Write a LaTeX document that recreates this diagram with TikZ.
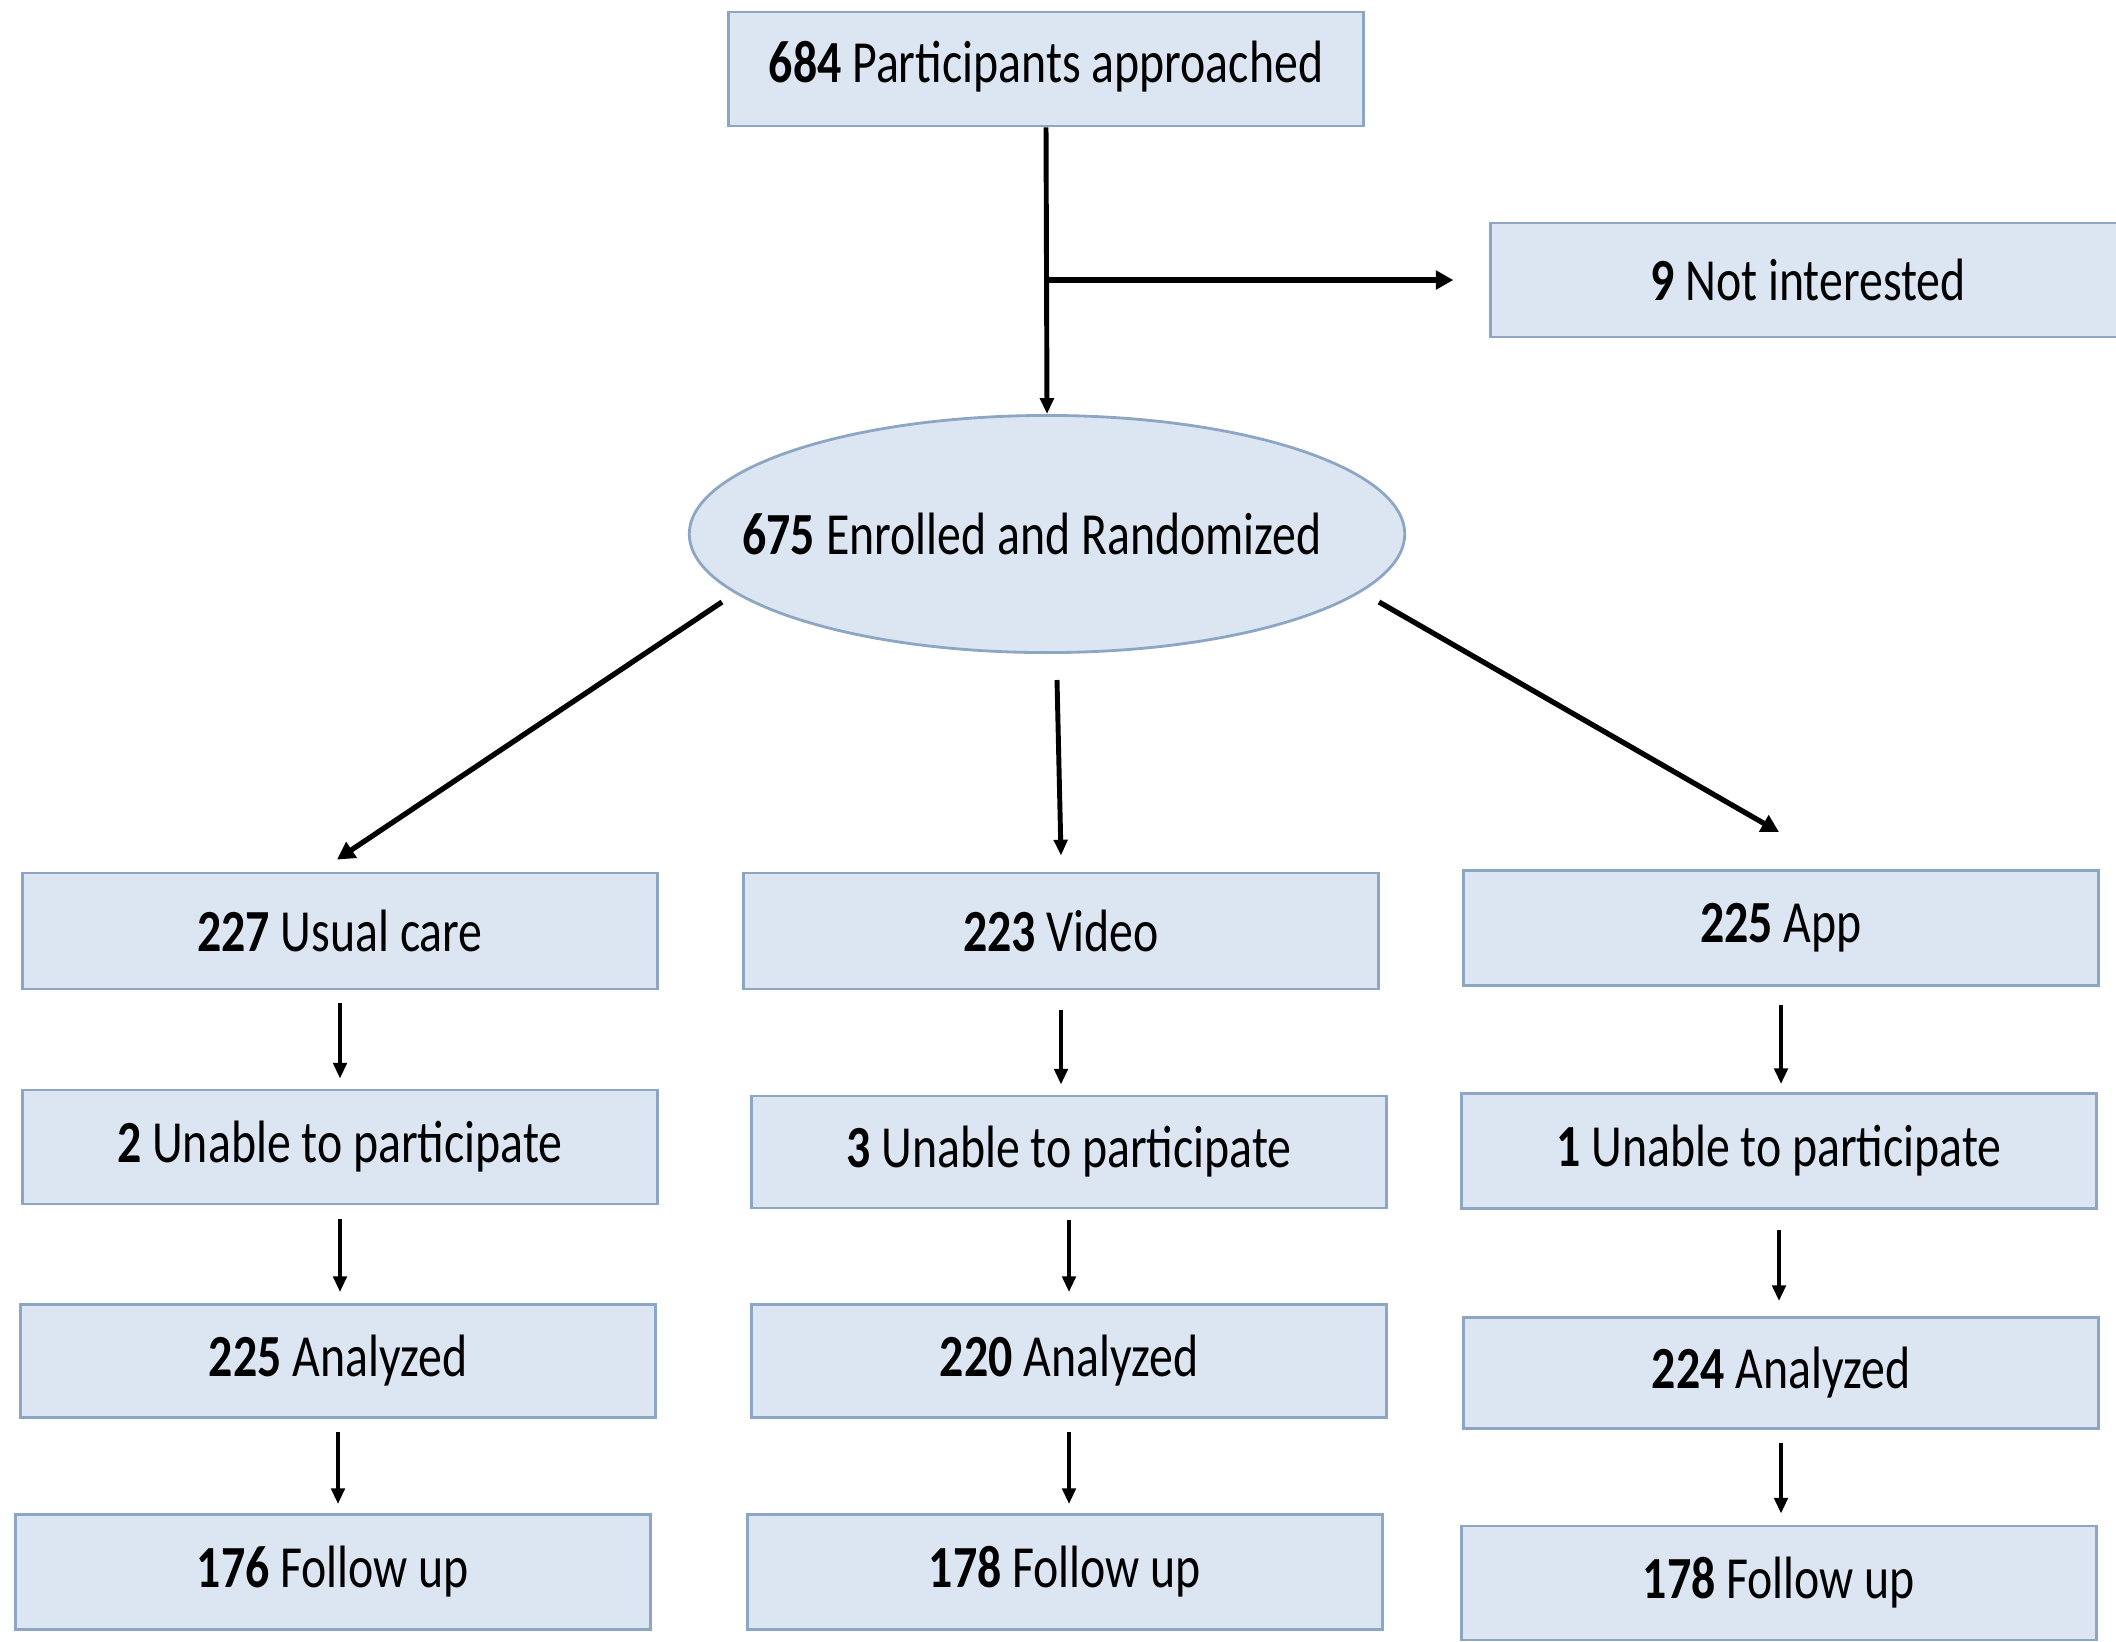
\documentclass[tikz,border=0pt]{standalone}
\usepackage{fontspec}
\setmainfont{Carlito}[FakeStretch=0.8]
\usetikzlibrary{positioning,arrows.meta,calc,shapes.geometric}
\definecolor{boxfill}{HTML}{DCE6F2}
\definecolor{boxline}{HTML}{8DA6C4}
\tikzset{
  stage/.style={rectangle,draw=boxline,fill=boxfill,line width=0.8pt,
    minimum width=6.34cm,minimum height=1.14cm,inner sep=0pt,align=center},
  rand/.style={ellipse,draw=boxline,fill=boxfill,line width=0.8pt,
    minimum width=7.15cm,minimum height=2.37cm,inner xsep=-0.6cm,inner ysep=0pt},
  flow/.style={-{Triangle[length=4.5pt,width=3.8pt]},line width=1.2pt},
  split/.style={-{Triangle[length=5pt,width=5.2pt]},line width=1.5pt},
}

\begin{document}
\begin{tikzpicture}[x=0.01cm,y=-0.01cm,font=\fontsize{17}{20}\selectfont]
  \useasboundingbox (0,0) rectangle (2116,1641);
  \node[stage] (appr) at (1046,69) {\raisebox{4pt}{\textbf{684} Participants approached}};
  \node[stage] (noint) at (1808,280) {\textbf{9} Not interested};
  \node[rand] (enr) at (1047,534) {\textbf{675} Enrolled and Randomized\hspace*{0.3cm}};
  % three arms
  \node[stage,minimum height=1.16cm] (uc) at (340,931) {\textbf{227} Usual care};
  \node[stage,minimum height=1.16cm] (vid) at (1061,931) {\textbf{223} Video};
  \node[stage,minimum height=1.15cm] (app) at (1781,928) {\textbf{225} App};
  \node[stage] (uc2) at (340,1147) {\textbf{2} Unable to participate};
  \node[stage,minimum height=1.12cm] (vid2) at (1069,1152) {\textbf{3} Unable to participate};
  \node[stage,minimum height=1.15cm] (app2) at (1779,1151) {\textbf{1} Unable to participate};
  \node[stage,minimum height=1.13cm] (uc3) at (338,1361) {\textbf{225} Analyzed};
  \node[stage,minimum height=1.13cm] (vid3) at (1069,1361) {\textbf{220} Analyzed};
  \node[stage,minimum height=1.11cm] (app3) at (1781,1373) {\textbf{224} Analyzed};
  \node[stage,minimum height=1.15cm] (uc4) at (333,1572) {\textbf{176} Follow up};
  \node[stage,minimum height=1.15cm] (vid4) at (1065,1572) {\textbf{178} Follow up};
  \node[stage] (app4) at (1779,1583) {\textbf{178} Follow up};

  \draw[flow,line width=1.4pt] (appr.south) -- (enr.north);
  \draw[split,shorten >=0.36cm] (appr.south |- noint.west) -- (noint.west);
  \draw[split] ($(enr.center)+(-325,68)$) -- ($(uc.north)+(-3,-12)$);
  \draw[flow,line width=1.4pt] ($(enr.south)+(10,26)$) -- ($(vid.north)+(0,-16)$);
  \draw[split] ($(enr.center)+(332,68)$) -- ($(app.north)+(-2,-37)$);

  \draw[flow,shorten <=0.13cm,shorten >=0.1cm] (uc.south) -- (uc.south |- uc2.north);
  \draw[flow,shorten <=0.2cm,shorten >=0.1cm] (vid.south) -- (vid.south |- vid2.north);
  \draw[flow,shorten <=0.18cm,shorten >=0.08cm] (app.south) -- (app.south |- app2.north);
  \draw[flow,shorten <=0.14cm,shorten >=0.11cm] (uc2.south) -- (uc2.south |- uc3.north);
  \draw[flow,shorten <=0.11cm,shorten >=0.11cm] (vid2.south) -- (vid2.south |- vid3.north);
  \draw[flow,shorten <=0.2cm,shorten >=0.15cm] (app2.south) -- (app2.south |- app3.north);
  \draw[flow,shorten <=0.13cm,shorten >=0.09cm] (uc3.south) -- (uc3.south |- uc4.north);
  \draw[flow,shorten <=0.13cm,shorten >=0.09cm] (vid3.south) -- (vid3.south |- vid4.north);
  \draw[flow,shorten <=0.13cm,shorten >=0.11cm] (app3.south) -- (app3.south |- app4.north);
\end{tikzpicture}
\end{document}
